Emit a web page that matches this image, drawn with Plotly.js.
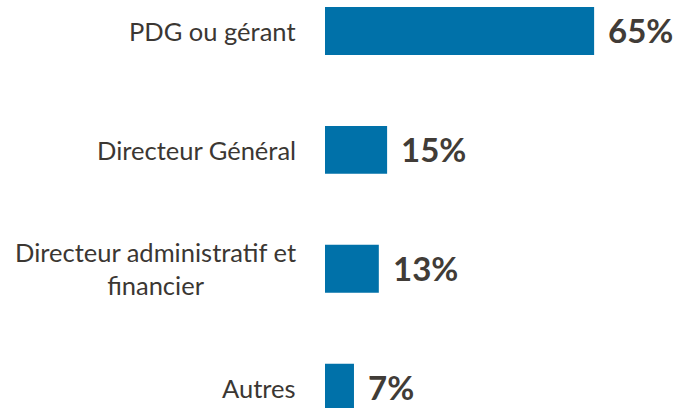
<!DOCTYPE html>
<html>
<head>
<meta charset="utf-8">
<script src="https://cdn.plot.ly/plotly-3.0.1.min.js"></script>
<style>html,body{margin:0;padding:0;background:#fff;}#chart{width:679px;height:408px;}</style>
</head>
<body>
<div id="chart"></div>
<script>
const categories = ["PDG ou gérant", "Directeur Général", "Directeur administratif et<br>financier", "Autres"];
const values = [65, 15, 13, 7];
const valueLabels = ["65%", "15%", "13%", "7%"];

const idx = categories.map((c, i) => i);

const trace = {
  type: "bar",
  orientation: "h",
  x: values,
  y: idx,
  width: 0.403,
  marker: {color: "#0071A9"},
  hoverinfo: "none"
};

const annotations = [];
categories.forEach((c, i) => {
  annotations.push({
    x: 0, xref: "paper", y: idx[i], yref: "y",
    xanchor: "right", yanchor: "middle", xshift: -27,
    text: c, showarrow: false, align: "center",
    font: {family: "Lato, 'Open Sans', sans-serif", size: 25.5, color: "#3B3733"}
  });
  annotations.push({
    x: values[i], xref: "x", y: idx[i], yref: "y",
    xanchor: "left", yanchor: "middle", xshift: 12, yshift: 1,
    text: "<b>" + valueLabels[i] + "</b>", showarrow: false,
    font: {family: "Lato, 'Open Sans', sans-serif", size: 33, color: "#413C37"}
  });
});

const layout = {
  width: 679, height: 408,
  margin: {l: 325, r: 0, t: 0, b: 0},
  paper_bgcolor: "#fff", plot_bgcolor: "#fff",
  showlegend: false,
  xaxis: {range: [0, 85.5], visible: false, fixedrange: true},
  yaxis: {range: [3.17, -0.26], visible: false, fixedrange: true},
  annotations: annotations
};

Plotly.newPlot("chart", [trace], layout, {staticPlot: true});
</script>
</body>
</html>
